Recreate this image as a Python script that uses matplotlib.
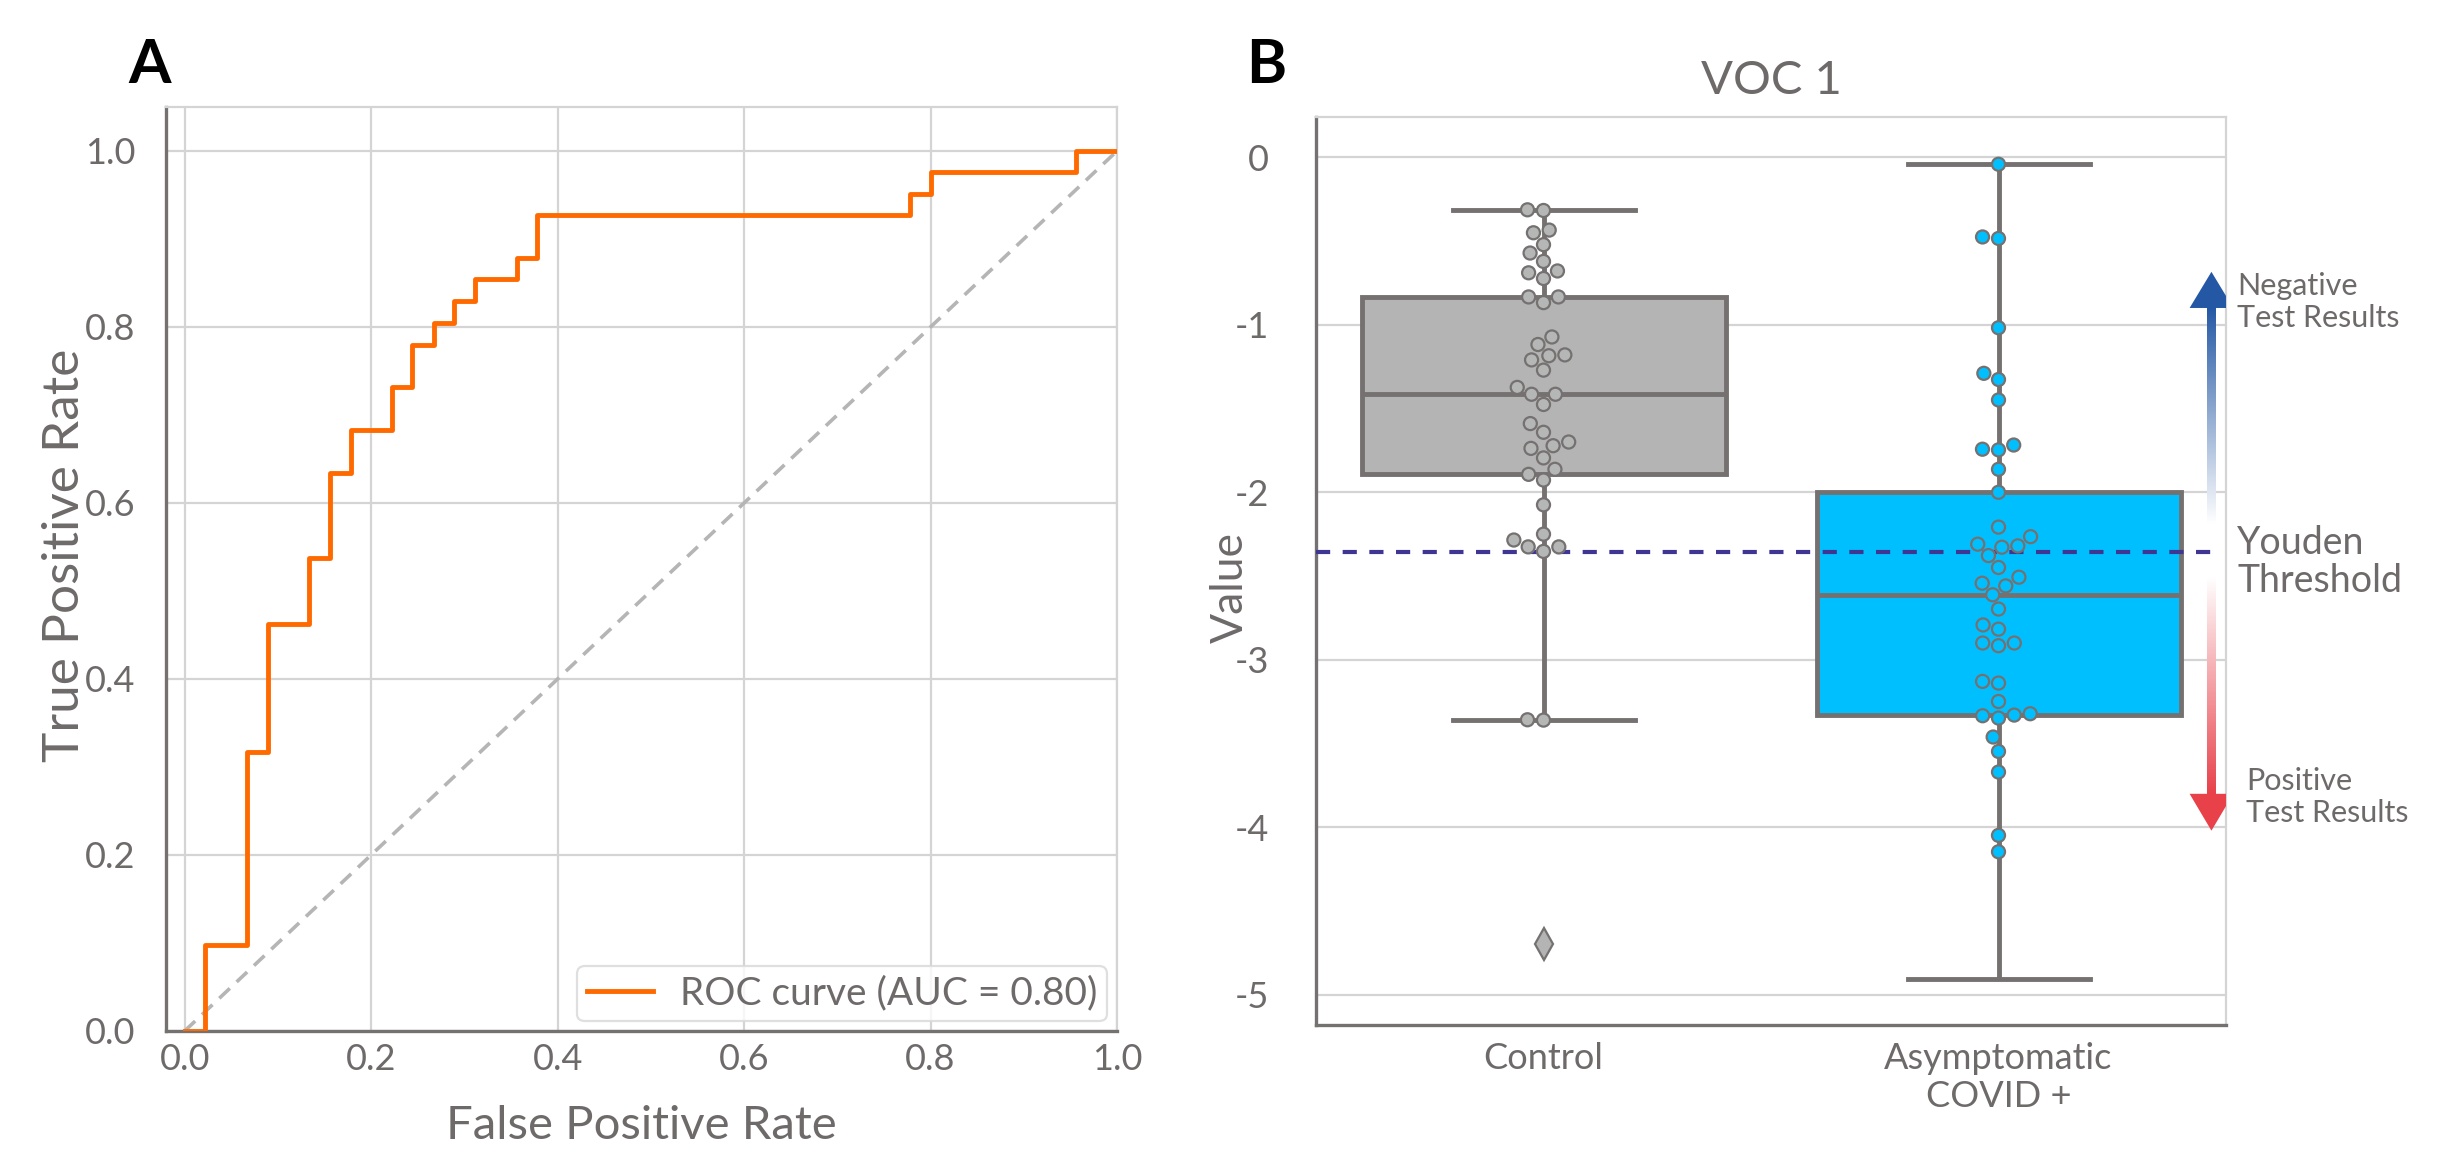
import numpy as np
import pandas as pd
import matplotlib
matplotlib.use("Agg")
import matplotlib.pyplot as plt
import seaborn as sns
from matplotlib.patches import Polygon
from matplotlib.colors import LinearSegmentedColormap

plt.rcParams['font.family'] = ['Lato', 'DejaVu Sans']
plt.rcParams['axes.unicode_minus'] = False

# ---------------- data ----------------
# ROC curve corners (step function, 'post')
roc_fpr = [0.0, 0.022, 0.067, 0.089, 0.133, 0.156, 0.178, 0.222, 0.244, 0.267,
           0.289, 0.311, 0.356, 0.378, 0.778, 0.800, 0.956, 1.0]
roc_tpr = [0.0, 0.098, 0.317, 0.463, 0.537, 0.634, 0.683, 0.732, 0.780, 0.805,
           0.829, 0.854, 0.878, 0.927, 0.951, 0.976, 1.0, 1.0]
roc_label = "ROC curve (AUC = 0.80)"

groups = ["Control", "Asymptomatic\nCOVID +"]
control_values = [-0.314, -0.318, -0.435, -0.451, -0.522, -0.572, -0.622, -0.679, -0.690,
                  -0.724, -0.834, -0.834, -0.868, -1.073, -1.118, -1.180, -1.185, -1.210,
                  -1.271, -1.374, -1.415, -1.415, -1.476, -1.590, -1.642, -1.700, -1.722,
                  -1.738, -1.795, -1.863, -1.893, -1.927, -2.075, -2.250, -2.285, -2.326,
                  -2.326, -2.353, -3.358, -3.360, -4.697]
covid_values = [-0.042, -0.476, -0.485, -1.018, -1.290, -1.327, -1.449, -1.718, -1.743,
                -1.747, -1.863, -2.000, -2.208, -2.265, -2.310, -2.320, -2.328, -2.378,
                -2.449, -2.507, -2.543, -2.559, -2.612, -2.697, -2.792, -2.817, -2.900,
                -2.900, -2.916, -3.129, -3.139, -3.249, -3.322, -3.330, -3.334, -3.348,
                -3.461, -3.547, -3.670, -4.048, -4.146, -4.564, -4.626, -4.835, -4.903]
outlier_cut = -4.5
youden_threshold = -2.358
b_yticks = [0, -1, -2, -3, -4, -5]
a_ticks = [0.0, 0.2, 0.4, 0.6, 0.8, 1.0]

# ---------------- style ----------------
TXT = '#6e6a6a'
SPINE = '#767171'
GRID = '#d4d4d4'
GRAY_FILL = '#b3b4b3'
BLUE_FILL = '#00bfff'
ORANGE = '#ff6a00'

W, H = 2445, 1150
fig = plt.figure(figsize=(W / 100, H / 100), dpi=100)

def ax_rect(l, t, r, b):
    return [l / W, 1 - b / H, (r - l) / W, (b - t) / H]

# ---------------- Panel A ----------------
axA = fig.add_axes(ax_rect(166, 107, 1117, 1031))
axA.step(roc_fpr, roc_tpr, where='post', color=ORANGE, lw=3.5, label=roc_label, zorder=3)
axA.plot([0, 1], [0, 1], ls=(0, (4, 2.6)), color='#b5b5b5', lw=2.6, zorder=2)
axA.set_xlim(-0.02, 1.0)
axA.set_ylim(0, 1.05)
axA.set_xticks(a_ticks)
axA.set_yticks(a_ticks)
axA.set_xticklabels([f"{t:.1f}" for t in a_ticks])
axA.set_yticklabels([f"{t:.1f}" for t in a_ticks])
axA.grid(True, color=GRID, lw=1.6)
axA.set_axisbelow(True)
axA.tick_params(axis='both', length=0, labelsize=26, colors=TXT)
axA.tick_params(axis='x', pad=9)
axA.tick_params(axis='y', pad=22)
for s in ['left', 'bottom']:
    axA.spines[s].set_color(SPINE)
    axA.spines[s].set_linewidth(2.4)
for s in ['top', 'right']:
    axA.spines[s].set_color(GRID)
    axA.spines[s].set_linewidth(1.6)
axA.set_xlabel("False Positive Rate", fontsize=34, color=TXT)
axA.set_ylabel("True Positive Rate", fontsize=37, color=TXT)
axA.xaxis.set_label_coords(0.5, -0.080)
axA.yaxis.set_label_coords(-0.082, 0.515)
leg = axA.legend(loc='lower right', fontsize=28, frameon=True, borderpad=0.25,
                 handlelength=1.7, handletextpad=0.7, borderaxespad=0.25)
leg.get_frame().set_edgecolor('#d8d8d8')
leg.get_frame().set_linewidth(1.6)
for t in leg.get_texts():
    t.set_color(TXT)

fig.text(150 / W, 1 - 65 / H, "A", fontsize=44, fontweight='bold', color='black',
         ha='center', va='center')

# ---------------- Panel B ----------------
axB = fig.add_axes(ax_rect(1316, 117, 2226, 1025))
df = pd.DataFrame({
    'group': [groups[0]] * len(control_values) + [groups[1]] * len(covid_values),
    'value': control_values + covid_values,
})
sns.boxplot(data=df, x='group', y='value', order=groups, hue='group', hue_order=groups,
            palette=[GRAY_FILL, BLUE_FILL], legend=False, width=0.8, linewidth=3.5,
            linecolor=SPINE, saturation=1,
            flierprops=dict(marker='d', markersize=16, markerfacecolor=GRAY_FILL,
                            markeredgecolor=SPINE, markeredgewidth=1.6),
            ax=axB, zorder=2)
df_sw = df[df['value'] > outlier_cut]
sns.swarmplot(data=df_sw, x='group', y='value', order=groups, hue='group', hue_order=groups,
              palette=['#b5b7b6', BLUE_FILL], legend=False, size=9.4, linewidth=1.6,
              edgecolor=SPINE, ax=axB, zorder=5)
axB.hlines(youden_threshold, -0.5, 1.488, colors='#3f3592', lw=3.0,
           linestyles=(0, (3.4, 3.0)), zorder=4)

# gradient arrows
xa = 1.468
hw = 0.0095
blue_cmap = LinearSegmentedColormap.from_list('b', ['#ffffff', '#2458a4'])
red_cmap = LinearSegmentedColormap.from_list('r', ['#ffffff', '#e8414a'])
grad = np.linspace(0, 1, 256).reshape(-1, 1)
axB.imshow(grad, extent=[xa - hw, xa + hw, -2.19, -0.90], origin='lower',
           cmap=blue_cmap, aspect='auto', zorder=3)
axB.imshow(grad[::-1], extent=[xa - hw, xa + hw, -3.80, -2.51], origin='lower',
           cmap=red_cmap, aspect='auto', zorder=3)
axB.add_patch(Polygon([[xa - 0.048, -0.90], [xa + 0.048, -0.90], [xa, -0.684]],
                      closed=True, color='#2458a4', zorder=3, lw=0))
axB.add_patch(Polygon([[xa - 0.048, -3.80], [xa + 0.048, -3.80], [xa, -4.02]],
                      closed=True, color='#e8414a', zorder=3, lw=0))

axB.set_xlim(-0.5, 1.5)
axB.set_ylim(-5.18, 0.24)
axB.set_yticks(b_yticks)
axB.set_yticklabels([str(t) for t in b_yticks])
axB.grid(True, axis='y', color=GRID, lw=1.6)
axB.grid(False, axis='x')
axB.set_axisbelow(True)
axB.tick_params(axis='both', length=0, labelsize=26, colors=TXT)
axB.tick_params(axis='x', pad=12)
axB.tick_params(axis='y', pad=34)
for s in ['left', 'bottom']:
    axB.spines[s].set_color(SPINE)
    axB.spines[s].set_linewidth(2.4)
for s in ['top', 'right']:
    axB.spines[s].set_color(GRID)
    axB.spines[s].set_linewidth(1.6)
axB.set_xlabel("")
axB.set_ylabel("Value", fontsize=32, color=TXT)
axB.yaxis.set_label_coords(-0.072, 0.482)
axB.text(0.5, 1.04, "VOC 1", transform=axB.transAxes, fontsize=34, color=TXT,
         ha='center', va='center')

fig.text(1266 / W, 1 - 65 / H, "B", fontsize=44, fontweight='bold', color='black',
         ha='center', va='center')

fig.text(2237 / W, 1 - 302 / H, "Negative\nTest Results", fontsize=22, color=TXT,
         ha='left', va='center', linespacing=1.15)
fig.text(2237 / W, 1 - 562 / H, "Youden\nThreshold", fontsize=27, color=TXT,
         ha='left', va='center', linespacing=1.1)
fig.text(2246 / W, 1 - 797 / H, "Positive\nTest Results", fontsize=22, color=TXT,
         ha='left', va='center', linespacing=1.15)

fig.savefig("out.png", dpi=100, facecolor='white')
